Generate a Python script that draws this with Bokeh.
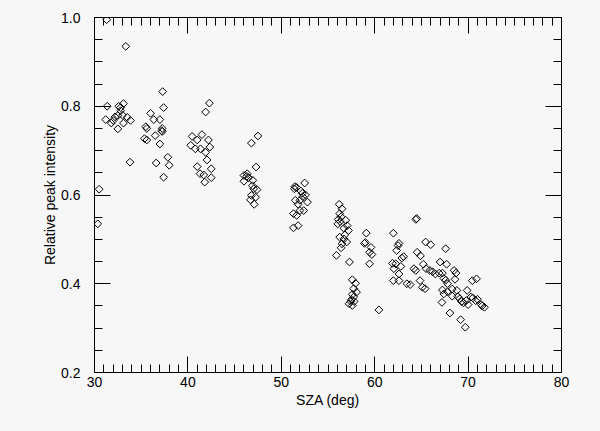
import numpy as np
from bokeh.plotting import figure
from bokeh.models import Range1d, LinearAxis, SingleIntervalTicker, PrintfTickFormatter
from bokeh.embed import file_html
from bokeh.resources import INLINE

# Solar zenith angle (deg) and relative peak intensity
sza = [
    31.3, 33.35, 31.36, 31.2, 31.8, 32.0, 32.5, 32.5, 32.8, 32.6, 33.1, 32.8, 33.1, 33.5, 33.85, 33.8, 32.2, 33.0, 30.5, 30.35,
    36.0, 35.5, 35.6, 36.35, 35.35, 35.6, 36.5, 37.0, 37.25, 37.25, 37.0, 37.4, 37.3, 36.6, 37.85, 38.0, 37.4, 37.2,
    42.3, 41.9, 40.45, 41.5, 41.0, 42.2, 40.3, 40.8, 41.35, 41.9, 42.35, 42.05, 41.0, 41.3, 42.5, 42.5, 41.8, 41.7,
    47.5, 46.8, 47.3, 46.0, 46.35, 46.5, 46.0, 46.9, 47.05, 47.4, 46.8, 47.25, 46.7, 47.1, 46.3, 46.95,
    52.5, 51.45, 51.65, 52.1, 52.25, 51.5, 52.0, 52.8, 51.8, 51.3, 52.0, 52.4, 51.65, 51.3, 51.8, 52.3, 51.4, 52.6,
    56.2, 56.5, 56.25, 56.4, 56.9, 56.05, 57.05, 57.2, 56.25, 56.7, 57.0, 56.5, 56.4, 55.9, 57.3, 56.8, 56.7, 56.1, 56.3,
    57.6, 57.95, 57.75, 58.05, 57.6, 57.75, 57.5, 57.25, 57.6, 57.45, 57.8, 60.45,
    59.1, 58.9, 59.6, 59.45, 59.7, 59.45, 59.0,
    64.4, 64.5, 62.0, 62.6, 62.5, 62.35, 63.1, 62.9, 61.9, 62.25, 62.8, 62.05, 62.6, 62.0, 62.6, 63.45, 63.8,
    64.55, 64.2, 64.4, 64.9, 64.85, 65.1, 65.4, 65.45, 66.0, 65.2, 65.5, 65.9,
    67.6, 67.0, 67.7, 66.2, 66.5, 66.9, 67.25, 67.4, 67.6, 67.8, 67.25, 67.4, 67.2, 67.8,
    68.5, 68.7, 68.6, 68.3, 68.8, 68.05, 68.3, 68.9, 69.1, 69.5, 69.2, 69.7, 69.9, 70.3, 70.5, 70.0,
    70.45, 70.9, 71.0, 71.4, 71.75, 71.5, 70.8, 69.8, 69.3,
]
intensity = [
    0.995, 0.935, 0.800, 0.770, 0.762, 0.768, 0.779, 0.749, 0.797, 0.800, 0.806, 0.790, 0.762, 0.775, 0.768, 0.674, 0.776, 0.780, 0.613, 0.535,
    0.784, 0.754, 0.750, 0.770, 0.727, 0.724, 0.734, 0.770, 0.750, 0.743, 0.715, 0.797, 0.833, 0.672, 0.685, 0.667, 0.640, 0.745,
    0.807, 0.787, 0.732, 0.736, 0.724, 0.724, 0.712, 0.704, 0.704, 0.696, 0.708, 0.679, 0.664, 0.648, 0.659, 0.639, 0.629, 0.645,
    0.733, 0.717, 0.663, 0.644, 0.648, 0.639, 0.631, 0.621, 0.614, 0.612, 0.599, 0.595, 0.589, 0.579, 0.642, 0.633,
    0.627, 0.619, 0.617, 0.609, 0.604, 0.588, 0.588, 0.584, 0.579, 0.558, 0.565, 0.565, 0.554, 0.526, 0.531, 0.596, 0.614, 0.600,
    0.579, 0.569, 0.558, 0.551, 0.543, 0.535, 0.531, 0.520, 0.505, 0.501, 0.494, 0.490, 0.481, 0.464, 0.449, 0.510, 0.525, 0.545, 0.540,
    0.409, 0.401, 0.389, 0.381, 0.376, 0.370, 0.364, 0.355, 0.351, 0.360, 0.360, 0.341,
    0.514, 0.491, 0.482, 0.471, 0.466, 0.445, 0.493,
    0.545, 0.547, 0.514, 0.491, 0.486, 0.475, 0.461, 0.458, 0.446, 0.445, 0.439, 0.434, 0.422, 0.407, 0.407, 0.400, 0.398,
    0.471, 0.434, 0.430, 0.463, 0.407, 0.392, 0.389, 0.494, 0.488, 0.444, 0.434, 0.430,
    0.479, 0.449, 0.444, 0.427, 0.422, 0.424, 0.424, 0.412, 0.408, 0.400, 0.386, 0.377, 0.358, 0.382,
    0.430, 0.424, 0.410, 0.388, 0.385, 0.334, 0.372, 0.371, 0.366, 0.357, 0.319, 0.302, 0.385, 0.370, 0.368, 0.353,
    0.407, 0.411, 0.365, 0.353, 0.347, 0.350, 0.362, 0.362, 0.360,
]

x_title = "SZA (deg)"
y_title = "Relative peak intensity"

BG = "#f7f7f7"
FONT = "Liberation Sans"

p = figure(width=600, height=431, output_backend="svg", toolbar_location=None,
           x_range=Range1d(30, 80), y_range=Range1d(0.2, 1.0),
           x_axis_type=None, y_axis_type=None,
           min_border_left=94, min_border_right=39, min_border_top=17, min_border_bottom=59)
p.background_fill_color = BG
p.border_fill_color = BG
p.outline_line_color = "black"
p.outline_line_width = 1
p.grid.visible = False

def style_axis(ax, show_labels):
    ax.axis_line_color = "black"
    ax.major_tick_line_color = "black"
    ax.minor_tick_line_color = "black"
    ax.major_tick_in = 16
    ax.major_tick_out = 0
    ax.minor_tick_in = 8
    ax.minor_tick_out = 0
    ax.major_label_text_font = FONT
    ax.major_label_text_font_size = "14px"
    ax.major_label_text_color = "black" if show_labels else None
    ax.axis_label_text_font = FONT
    ax.axis_label_text_font_size = "14px"
    ax.axis_label_text_font_style = "normal"
    ax.axis_label_text_color = "black"

def xt():
    return SingleIntervalTicker(interval=10, num_minor_ticks=10)

def yt():
    return SingleIntervalTicker(interval=0.2, num_minor_ticks=4)

bottom = LinearAxis(ticker=xt(), axis_label=x_title)
style_axis(bottom, True)
bottom.major_label_standoff = 4
bottom.axis_label_standoff = 2
p.add_layout(bottom, "below")

top = LinearAxis(ticker=xt())
style_axis(top, False)
top.major_label_text_font_size = "0px"
p.add_layout(top, "above")

left = LinearAxis(ticker=yt(), axis_label=y_title,
                  formatter=PrintfTickFormatter(format="%.1f"))
style_axis(left, True)
left.major_label_standoff = 14
left.axis_label_standoff = 0
p.add_layout(left, "left")

right = LinearAxis(ticker=yt())
style_axis(right, False)
right.major_label_text_font_size = "0px"
p.add_layout(right, "right")

p.scatter(sza, intensity, marker="square", angle=np.pi / 4, size=5.5,
          fill_color=None, line_color="black", line_width=1)

html = file_html(p, INLINE)
html = html.replace("<head>", "<head><style>body{background:%s;margin:0;}</style>" % BG, 1)
open("out.html", "w").write(html)
